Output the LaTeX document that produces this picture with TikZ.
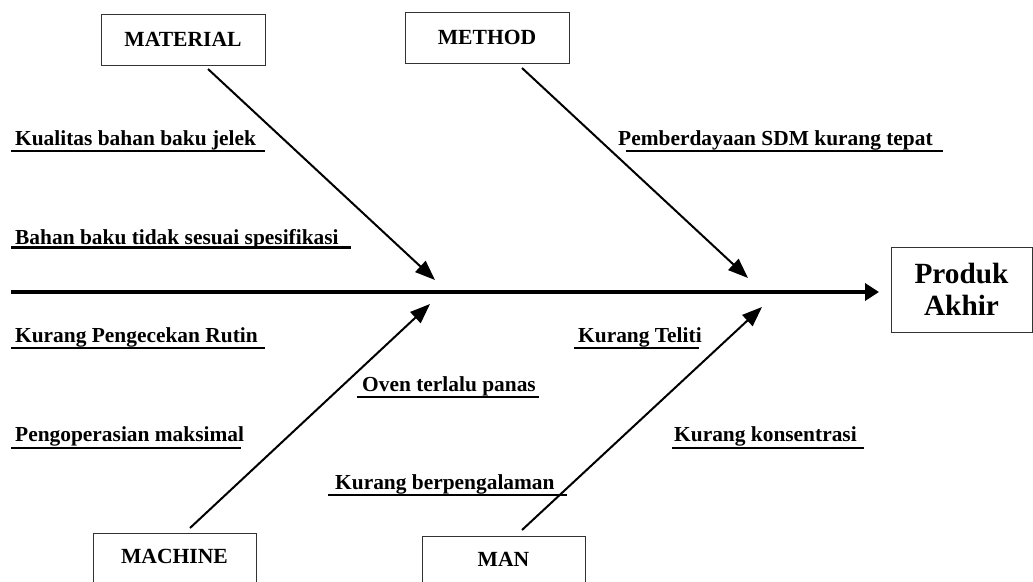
\documentclass[tikz,border=0pt]{standalone}
\usepackage{fontspec}
\setmainfont{Liberation Serif}
\usetikzlibrary{arrows.meta}
\begin{document}
\begin{tikzpicture}[x=1pt,y=-1pt,
  catbox/.style={draw=black!80, line width=0.9pt, rectangle, inner sep=0pt,
    font=\fontsize{21.6}{25}\selectfont\bfseries},
  cause/.style={anchor=base west, inner sep=0pt, font=\fontsize{21.4}{25}\selectfont\bfseries},
  uline/.style={line width=2.6pt},
  bone/.style={line width=2pt, -{Triangle[length=20pt,width=15pt]}},
  spine/.style={line width=3.6pt, -{Triangle[length=14pt,width=17pt]}}
]
\useasboundingbox (0,0) rectangle (1033,581);
\clip (0,0) rectangle (1033,581);
\fill[white] (0,0) rectangle (1033,581);

% category boxes
\node[catbox, minimum width=164pt, minimum height=51pt] (material) at (183,39.5) {MATERIAL};
\node[catbox, minimum width=164pt, minimum height=51pt] (method) at (487,37.5) {METHOD};
\node[catbox, minimum width=163pt, anchor=north, text height=14pt, text depth=40pt, inner ysep=16pt] (machine) at (174.5,533) {MACHINE};
\node[catbox, minimum width=163pt, anchor=north, text height=14pt, text depth=40pt, inner ysep=16pt] (man) at (503.5,536) {MAN};
\node[catbox, minimum width=141pt, minimum height=85pt, align=center,
  font=\fontsize{29.3}{32}\selectfont\bfseries] (produk) at (961.5,289.5) {Produk\\Akhir};

% coordinates
\coordinate (spinestart) at (11,292);
\coordinate (spineend) at (879,292);
\coordinate (matS) at (208,69);
\coordinate (matE) at (435,280);
\coordinate (metS) at (522,68);
\coordinate (metE) at (748,278);
\coordinate (macS) at (190,528);
\coordinate (macE) at (430,304);
\coordinate (manS) at (522,530);
\coordinate (manE) at (762,307);

% spine and bones
\draw[spine] (spinestart) -- (spineend);
\draw[bone] (matS) -- (matE);
\draw[bone] (metS) -- (metE);
\draw[bone] (macS) -- (macE);
\draw[bone] (manS) -- (manE);

% causes
\node[cause] (c1) at (15,145) {Kualitas bahan baku jelek};
\draw[uline] (11,151) -- (265,151);
\node[cause] (c2) at (15,244) {Bahan baku tidak sesuai spesifikasi};
\draw[uline] (11,247.5) -- (351,247.5);
\node[cause] (c3) at (618,145) {Pemberdayaan SDM kurang tepat};
\draw[uline] (626,151) -- (943,151);
\node[cause] (c4) at (15,342) {Kurang Pengecekan Rutin};
\draw[uline] (11,348) -- (265,348);
\node[cause] (c5) at (362,391) {Oven terlalu panas};
\draw[uline] (357,397) -- (539,397);
\node[cause] (c6) at (15,441) {Pengoperasian maksimal};
\draw[uline] (11,448) -- (241,448);
\node[cause] (c7) at (335,489) {Kurang berpengalaman};
\draw[uline] (328,495) -- (567,495);
\node[cause] (c8) at (578,342) {Kurang Teliti};
\draw[uline] (574,348) -- (699,348);
\node[cause] (c9) at (674,441) {Kurang konsentrasi};
\draw[uline] (672,448) -- (864,448);
\end{tikzpicture}
\end{document}
